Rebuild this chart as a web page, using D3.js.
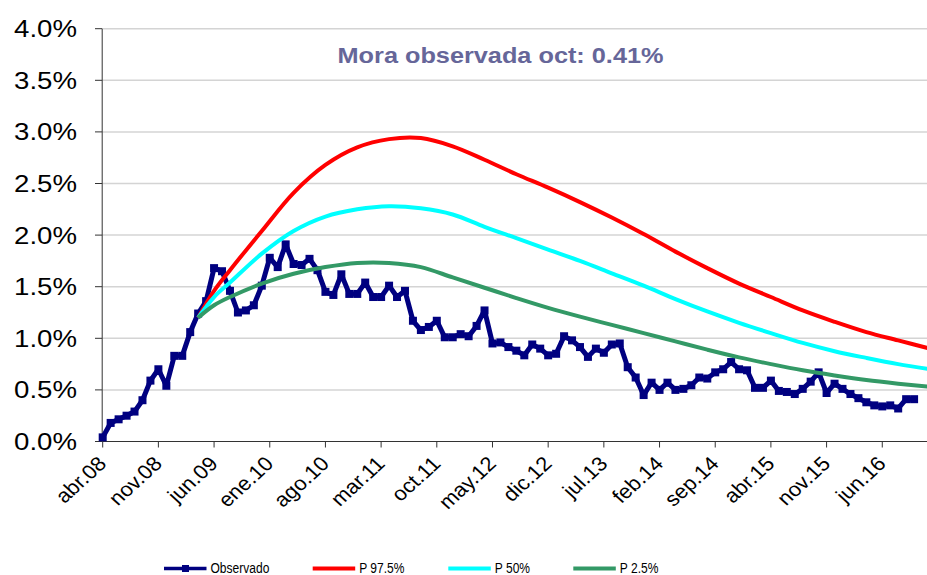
<!DOCTYPE html>
<html>
<head>
<meta charset="utf-8">
<script src="https://cdn.jsdelivr.net/npm/d3@7"></script>
<style>
  body { margin: 0; background: #fff; }
  text { font-family: "Liberation Sans", Arial, sans-serif; }
</style>
</head>
<body>
<svg id="chart" width="927" height="575"></svg>
<script>
// month categories abr.08 ... dic.16
const meses = ['ene', 'feb', 'mar', 'abr', 'may', 'jun', 'jul', 'ago', 'sep', 'oct', 'nov', 'dic'];
const categories = d3.range(105).map(i => meses[(3 + i) % 12] + '.' + String(8 + Math.floor((3 + i) / 12)).padStart(2, '0'));

const tickLabels = ['abr.08', 'nov.08', 'jun.09', 'ene.10', 'ago.10', 'mar.11', 'oct.11', 'may.12',
  'dic.12', 'jul.13', 'feb.14', 'sep.14', 'abr.15', 'nov.15', 'jun.16'];
const yTicks = [0, 0.5, 1, 1.5, 2, 2.5, 3, 3.5, 4];

// observed default rate (%), abr.08 .. oct.16
const observado = [
  0.04, 0.18, 0.215, 0.25, 0.29, 0.40, 0.59, 0.70, 0.54, 0.83, 0.83, 1.06,
  1.24, 1.36, 1.68, 1.65, 1.46, 1.25, 1.27, 1.32, 1.51, 1.78, 1.69, 1.91,
  1.72, 1.71, 1.77, 1.66, 1.45, 1.42, 1.62, 1.43, 1.43, 1.54, 1.40, 1.40,
  1.51, 1.40, 1.46, 1.17, 1.08, 1.11, 1.17, 1.01, 1.01, 1.04, 1.02, 1.12,
  1.27, 0.95, 0.96, 0.915, 0.88, 0.835, 0.94, 0.90, 0.835, 0.85, 1.02, 0.98,
  0.915, 0.82, 0.90, 0.86, 0.94, 0.95, 0.72, 0.62, 0.45, 0.57, 0.50, 0.57,
  0.50, 0.51, 0.545, 0.62, 0.61, 0.67, 0.70, 0.77, 0.70, 0.69, 0.52, 0.52,
  0.59, 0.49, 0.48, 0.46, 0.51, 0.58, 0.67, 0.47, 0.56, 0.51, 0.46, 0.42,
  0.38, 0.35, 0.34, 0.35, 0.32, 0.41, 0.41
];

// projection months (index into categories) and percentiles
const projMonths = [12, 14, 16, 20, 24, 28, 32, 36, 40, 44, 48, 52, 56, 60, 64, 68, 72, 76, 80, 84, 88, 92, 96, 100, 104];
const p975 = [1.20, 1.46, 1.66, 2.04, 2.41, 2.68, 2.85, 2.93, 2.94, 2.86, 2.73, 2.59, 2.46, 2.32, 2.17, 2.01, 1.84, 1.68, 1.53, 1.40, 1.27, 1.16, 1.06, 0.98, 0.90];
const p50 = [1.20, 1.40, 1.54, 1.82, 2.04, 2.18, 2.25, 2.28, 2.26, 2.20, 2.08, 1.97, 1.86, 1.75, 1.63, 1.51, 1.38, 1.26, 1.15, 1.05, 0.955, 0.875, 0.81, 0.75, 0.70];
const p25 = [1.20, 1.32, 1.40, 1.53, 1.625, 1.69, 1.73, 1.73, 1.69, 1.59, 1.49, 1.39, 1.295, 1.21, 1.13, 1.05, 0.97, 0.89, 0.815, 0.75, 0.69, 0.64, 0.595, 0.56, 0.53];

const seriesNames = ['Observado', 'P 97.5%', 'P 50%', 'P 2.5%'];
const colors = ['#000080', '#ff0000', '#00ffff', '#339966'];

const svg = d3.select('#chart');

const x = d3.scalePoint()
  .domain(categories)
  .range([102.7, 930]);

const y = d3.scaleLinear()
  .domain([0, 4])
  .range([441.5, 28.7]);

// stretched text helper (the original chart text is a bit wide)
function label(g, tx, ty, txt, opts) {
  const t = g.append('g')
    .attr('transform', `translate(${tx},${ty}) scale(${opts.sx || 1},1)` + (opts.rot ? ` rotate(${opts.rot})` : ''))
    .append('text')
    .attr('text-anchor', opts.anchor || 'start')
    .attr('font-size', opts.size)
    .attr('fill', opts.fill || '#000')
    .text(txt);
  if (opts.bold) t.attr('font-weight', 'bold');
  return t;
}

// gridlines
svg.append('g')
  .selectAll('line')
  .data(yTicks.filter(d => d > 0))
  .enter()
  .append('line')
  .attr('x1', 102.7)
  .attr('x2', 927)
  .attr('y1', d => y(d))
  .attr('y2', d => y(d))
  .attr('stroke', '#d4d4d4')
  .attr('stroke-width', 1.5);

// y axis
const yAxis = svg.append('g');
yAxis.append('line')
  .attr('x1', 102.2).attr('x2', 102.2)
  .attr('y1', y(4)).attr('y2', y(0))
  .attr('stroke', '#333');
yAxis.selectAll('line.tick')
  .data(yTicks)
  .enter()
  .append('line')
  .attr('class', 'tick')
  .attr('x1', 95).attr('x2', 102.2)
  .attr('y1', d => y(d)).attr('y2', d => y(d))
  .attr('stroke', '#333');
yTicks.forEach(d => {
  label(yAxis, 77, y(d) + 8.5, d.toFixed(1) + '%', { size: 24, sx: 1.15, anchor: 'end' });
});

// x axis
const xAxis = svg.append('g');
xAxis.append('line')
  .attr('x1', 102.2).attr('x2', 927)
  .attr('y1', y(0)).attr('y2', y(0))
  .attr('stroke', '#333');
xAxis.selectAll('line.tick')
  .data(tickLabels)
  .enter()
  .append('line')
  .attr('class', 'tick')
  .attr('x1', d => x(d)).attr('x2', d => x(d))
  .attr('y1', y(0)).attr('y2', y(0) + 6)
  .attr('stroke', '#333');
tickLabels.forEach(d => {
  label(xAxis, x(d) + 5, 465, d, { size: 20, sx: 1.1, rot: -45, anchor: 'end' });
});

// lines
const obsData = observado.map((v, i) => ({ c: categories[i], v }));
const obsLine = d3.line().x(d => x(d.c)).y(d => y(d.v));

svg.append('path')
  .datum(obsData)
  .attr('fill', 'none')
  .attr('stroke', colors[0])
  .attr('stroke-width', 5)
  .attr('stroke-linejoin', 'round')
  .attr('d', obsLine);

svg.append('g')
  .selectAll('rect')
  .data(obsData)
  .enter()
  .append('rect')
  .attr('x', d => x(d.c) - 4)
  .attr('y', d => y(d.v) - 4)
  .attr('width', 8)
  .attr('height', 8)
  .attr('fill', colors[0]);

const projLine = d3.line()
  .x(d => x(d.c))
  .y(d => y(d.v))
  .curve(d3.curveCatmullRom.alpha(0.5));

[p975, p50, p25].forEach((vals, k) => {
  svg.append('path')
    .datum(vals.map((v, i) => ({ c: categories[projMonths[i]], v })))
    .attr('fill', 'none')
    .attr('stroke', colors[k + 1])
    .attr('stroke-width', 4)
    .attr('d', projLine);
});

// title
label(svg, 500.5, 63, 'Mora observada oct: 0.41%', { size: 22, sx: 1.15, anchor: 'middle', fill: '#666699', bold: true });

// legend
const legendX = [164, 312.7, 448.3, 573.3];
const legend = svg.append('g');
seriesNames.forEach((name, i) => {
  const lx = legendX[i];
  legend.append('line')
    .attr('x1', lx).attr('x2', lx + 42.5)
    .attr('y1', 568.5).attr('y2', 568.5)
    .attr('stroke', colors[i])
    .attr('stroke-width', i === 0 ? 3.5 : 4);
  if (i === 0) {
    legend.append('rect')
      .attr('x', lx + 21.5 - 3.5).attr('y', 568.5 - 3.5)
      .attr('width', 7).attr('height', 7)
      .attr('fill', colors[0]);
  }
  label(legend, lx + 46.5, 572.5, name, { size: 14.5, sx: 0.83 });
});
</script>
</body>
</html>
